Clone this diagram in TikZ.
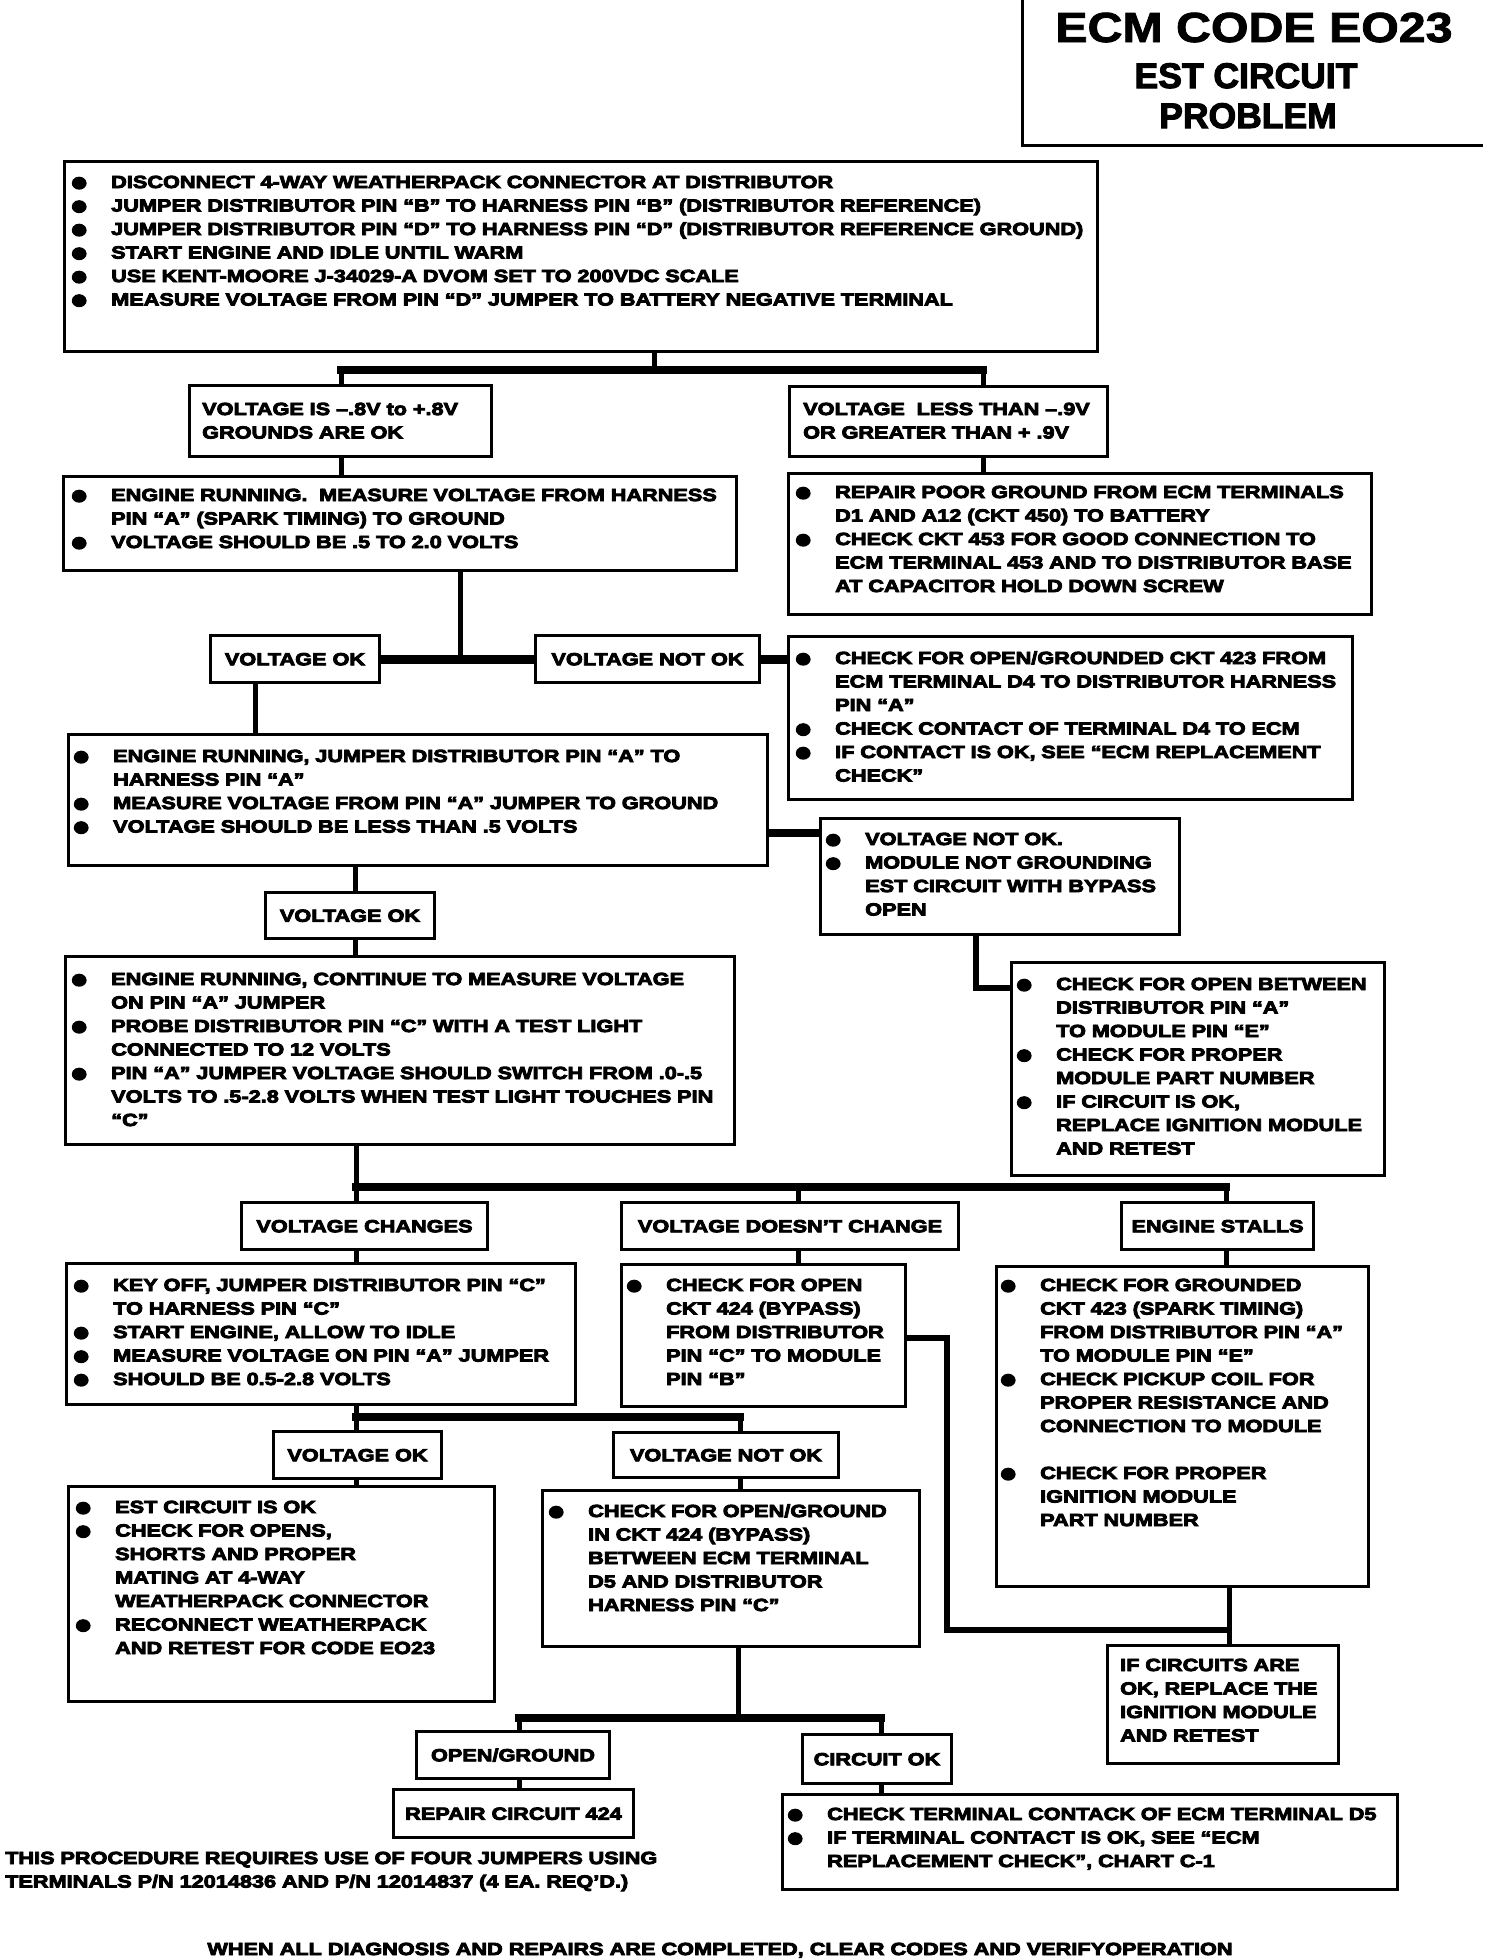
\documentclass[tikz,border=0pt]{standalone}
\usepackage{fontspec}
\usepackage{graphicx}
\newfontfamily\bodyfont{Liberation Sans}[FakeStretch=1.24, BoldFeatures={FakeBold=5}]
\newfontfamily\titleA{Liberation Sans}[FakeStretch=1.15, BoldFeatures={FakeBold=2}]
\newfontfamily\titleB{Liberation Sans}[BoldFeatures={FakeBold=3}]
\newcommand\bodyf{\bodyfont\bfseries\fontsize{17.5}{23.5}\selectfont}
\newcommand\bul{\raisebox{-2.8pt}{\scalebox{1.45}[1.55]{●}}}
\newcommand\itm{\leavevmode\llap{\makebox[10pt][c]{\bul}\hspace{27pt}}}
\begin{document}
\begin{tikzpicture}[x=1pt,y=-1pt,
  box/.style={draw, line width=3pt, anchor=north west, inner sep=0pt},
  lbl/.style={box, font=\bodyf, text height=12.5pt, text depth=0pt},
  txt/.style={anchor=base west, inner sep=0pt, align=left, text width=1100pt, font=\bodyf},
  conn/.style={line width=5pt},
  bar/.style={line width=8pt, line cap=rect},
  hbar/.style={line width=8pt},
]
\useasboundingbox (0,0) rectangle (1504,1960);

% title
\draw[line width=3pt] (1022,0) -- (1022,145) -- (1483,145);
\node[anchor=base, inner sep=0pt, font=\titleA\bfseries\fontsize{42}{46}\selectfont] (t1) at (1254,42) {ECM CODE EO23};
\node[anchor=base, inner sep=0pt, font=\titleB\bfseries\fontsize{35.5}{40}\selectfont] (t2) at (1246,88) {EST CIRCUIT};
\node[anchor=base, inner sep=0pt, font=\titleB\bfseries\fontsize{35.5}{40}\selectfont] (t3) at (1248,128) {PROBLEM};

% boxes
\node[box, minimum width=1033pt, minimum height=190pt] (b1) at (63,160) {};
\node[txt] (b1t) at (111,188) {\itm DISCONNECT 4-WAY WEATHERPACK CONNECTOR AT DISTRIBUTOR\\
\itm JUMPER DISTRIBUTOR PIN “B” TO HARNESS PIN “B” (DISTRIBUTOR REFERENCE)\\
\itm JUMPER DISTRIBUTOR PIN “D” TO HARNESS PIN “D” (DISTRIBUTOR REFERENCE GROUND)\\
\itm START ENGINE AND IDLE UNTIL WARM\\
\itm USE KENT-MOORE J-34029-A DVOM SET TO 200VDC SCALE\\
\itm MEASURE VOLTAGE FROM PIN “D” JUMPER TO BATTERY NEGATIVE TERMINAL};

\node[box, minimum width=302pt, minimum height=71pt] (vis) at (188,384) {};
\node[txt] (vist) at (202,415) {VOLTAGE IS –.8V to +.8V\\GROUNDS ARE OK};
\node[box, minimum width=318pt, minimum height=70pt] (vlt) at (788,385) {};
\node[txt] (vltt) at (803,415) {VOLTAGE\ \ LESS THAN –.9V\\OR GREATER THAN + .9V};

\node[box, minimum width=673pt, minimum height=94pt] (er1) at (62,475) {};
\node[txt] (er1t) at (111,501) {\itm ENGINE RUNNING.\ \ MEASURE VOLTAGE FROM HARNESS\\PIN “A” (SPARK TIMING) TO GROUND\\
\itm VOLTAGE SHOULD BE .5 TO 2.0 VOLTS};

\node[box, minimum width=583pt, minimum height=141pt] (rp) at (787,472) {};
\node[txt] (rpt) at (835,498) {\itm REPAIR POOR GROUND FROM ECM TERMINALS\\D1 AND A12 (CKT 450) TO BATTERY\\
\itm CHECK CKT 453 FOR GOOD CONNECTION TO\\ECM TERMINAL 453 AND TO DISTRIBUTOR BASE\\AT CAPACITOR HOLD DOWN SCREW};

\node[lbl, minimum width=169pt, minimum height=47pt] (vok1) at (209,634) {VOLTAGE OK};
\node[lbl, minimum width=224pt, minimum height=47pt] (vnok1) at (534,634) {VOLTAGE NOT OK};

\node[box, minimum width=564pt, minimum height=163pt] (cf1) at (787,635) {};
\node[txt] (cf1t) at (835,664) {\itm CHECK FOR OPEN/GROUNDED CKT 423 FROM\\ECM TERMINAL D4 TO DISTRIBUTOR HARNESS\\PIN “A”\\
\itm CHECK CONTACT OF TERMINAL D4 TO ECM\\
\itm IF CONTACT IS OK, SEE “ECM REPLACEMENT\\CHECK”};

\node[box, minimum width=699pt, minimum height=131pt] (er2) at (67,733) {};
\node[txt] (er2t) at (113,762) {\itm ENGINE RUNNING, JUMPER DISTRIBUTOR PIN “A” TO\\HARNESS PIN “A”\\
\itm MEASURE VOLTAGE FROM PIN “A” JUMPER TO GROUND\\
\itm VOLTAGE SHOULD BE LESS THAN .5 VOLTS};

\node[box, minimum width=359pt, minimum height=116pt] (mod) at (819,817) {};
\node[txt] (modt) at (865,845) {\itm VOLTAGE NOT OK.\\
\itm MODULE NOT GROUNDING\\EST CIRCUIT WITH BYPASS\\OPEN};

\node[lbl, minimum width=169pt, minimum height=46pt] (vok2) at (264,891) {VOLTAGE OK};

\node[box, minimum width=669pt, minimum height=188pt] (er3) at (64,955) {};
\node[txt] (er3t) at (111,985) {\itm ENGINE RUNNING, CONTINUE TO MEASURE VOLTAGE\\ON PIN “A” JUMPER\\
\itm PROBE DISTRIBUTOR PIN “C” WITH A TEST LIGHT\\CONNECTED TO 12 VOLTS\\
\itm PIN “A” JUMPER VOLTAGE SHOULD SWITCH FROM .0-.5\\VOLTS TO .5-2.8 VOLTS WHEN TEST LIGHT TOUCHES PIN\\“C”};

\node[box, minimum width=373pt, minimum height=213pt] (cfob) at (1010,961) {};
\node[txt] (cfobt) at (1056,990) {\itm CHECK FOR OPEN BETWEEN\\DISTRIBUTOR PIN “A”\\TO MODULE PIN “E”\\
\itm CHECK FOR PROPER\\MODULE PART NUMBER\\
\itm IF CIRCUIT IS OK,\\REPLACE IGNITION MODULE\\AND RETEST};

\node[lbl, minimum width=246pt, minimum height=47pt] (vc) at (240,1201) {VOLTAGE CHANGES};
\node[lbl, minimum width=337pt, minimum height=47pt] (vdc) at (620,1201) {VOLTAGE DOESN’T CHANGE};
\node[lbl, minimum width=192pt, minimum height=47pt] (es) at (1120,1201) {ENGINE STALLS};

\node[box, minimum width=509pt, minimum height=141pt] (ko) at (65,1262) {};
\node[txt] (kot) at (113,1291) {\itm KEY OFF, JUMPER DISTRIBUTOR PIN “C”\\TO HARNESS PIN “C”\\
\itm START ENGINE, ALLOW TO IDLE\\
\itm MEASURE VOLTAGE ON PIN “A” JUMPER\\
\itm SHOULD BE 0.5-2.8 VOLTS};

\node[box, minimum width=284pt, minimum height=142pt] (c424) at (620,1263) {};
\node[txt] (c424t) at (666,1291) {\itm CHECK FOR OPEN\\CKT 424 (BYPASS)\\FROM DISTRIBUTOR\\PIN “C” TO MODULE\\PIN “B”};

\node[box, minimum width=372pt, minimum height=320pt] (cfg) at (995,1265) {};
\node[txt] (cfgt) at (1040,1291) {\itm CHECK FOR GROUNDED\\CKT 423 (SPARK TIMING)\\FROM DISTRIBUTOR PIN “A”\\TO MODULE PIN “E”\\
\itm CHECK PICKUP COIL FOR\\PROPER RESISTANCE AND\\CONNECTION TO MODULE\\
\mbox{}\\
\itm CHECK FOR PROPER\\IGNITION MODULE\\PART NUMBER};

\node[box, minimum width=231pt, minimum height=118pt] (ic) at (1106,1644) {};
\node[txt] (ict) at (1120,1671) {IF CIRCUITS ARE\\OK, REPLACE THE\\IGNITION MODULE\\AND RETEST};

\node[lbl, minimum width=168pt, minimum height=47pt] (vok3) at (272,1430) {VOLTAGE OK};
\node[lbl, minimum width=225pt, minimum height=45pt] (vnok3) at (612,1431) {VOLTAGE NOT OK};

\node[box, minimum width=426pt, minimum height=215pt] (eo) at (67,1485) {};
\node[txt] (eot) at (115,1513) {\itm EST CIRCUIT IS OK\\
\itm CHECK FOR OPENS,\\SHORTS AND PROPER\\MATING AT 4-WAY\\WEATHERPACK CONNECTOR\\
\itm RECONNECT WEATHERPACK\\AND RETEST FOR CODE EO23};

\node[box, minimum width=377pt, minimum height=156pt] (cfog) at (541,1489) {};
\node[txt] (cfogt) at (588,1517) {\itm CHECK FOR OPEN/GROUND\\IN CKT 424 (BYPASS)\\BETWEEN ECM TERMINAL\\D5 AND DISTRIBUTOR\\HARNESS PIN “C”};

\node[lbl, minimum width=193pt, minimum height=47pt] (og) at (415,1730) {OPEN/GROUND};
\node[lbl, minimum width=240pt, minimum height=48pt] (rc) at (392,1788) {REPAIR CIRCUIT 424};
\node[lbl, minimum width=149pt, minimum height=49pt] (cok) at (801,1733) {CIRCUIT OK};

\node[box, minimum width=615pt, minimum height=95pt] (ct) at (781,1793) {};
\node[txt] (ctt) at (827,1820) {\itm CHECK TERMINAL CONTACK OF ECM TERMINAL D5\\
\itm IF TERMINAL CONTACT IS OK, SEE “ECM\\REPLACEMENT CHECK”, CHART C-1};

\node[txt] (foot) at (5,1864) {THIS PROCEDURE REQUIRES USE OF FOUR JUMPERS USING\\TERMINALS P/N 12014836 AND P/N 12014837 (4 EA. REQ’D.)};
\node[anchor=base, inner sep=0pt, font=\bodyf] (footer) at (720,1955) {WHEN ALL DIAGNOSIS AND REPAIRS ARE COMPLETED, CLEAR CODES AND VERIFYOPERATION};

% connectors
\coordinate (j1) at (654,370);
\coordinate (j1a) at (341,370);
\coordinate (j1b) at (983,370);
\draw[conn] (j1 |- b1.south) -- (j1);
\draw[bar] (j1a) -- (j1b);
\draw[conn] (j1a) -- (j1a |- vis.north);
\draw[conn] (j1b) -- (j1b |- vlt.north);
\draw[conn] (j1a |- vis.south) -- (j1a |- er1.north);
\draw[conn] (j1b |- vlt.south) -- (j1b |- rp.north);

\coordinate (j2) at (460,657.5);
\draw[conn] (j2 |- er1.south) -- (j2);
\draw[hbar, line width=9pt] (vok1.east) -- (vnok1.west);
\draw[hbar, line width=9pt] (vnok1.east) -- (vnok1.east -| cf1.west);

\coordinate (j3) at (255,700);
\draw[conn] (j3 |- vok1.south) -- (j3 |- er2.north);

\coordinate (j4) at (790,833);
\draw[hbar] (j4 -| er2.east) -- (j4 -| mod.west);

\coordinate (j5) at (355,900);
\draw[conn] (j5 |- er2.south) -- (j5 |- vok2.north);
\draw[conn] (j5 |- vok2.south) -- (j5 |- er3.north);

\coordinate (j6) at (976,988);
\draw[line width=6pt] (j6 |- mod.south) -- (j6) -- (j6 -| cfob.west);

\coordinate (j7a) at (356,1187);
\coordinate (j7b) at (798,1187);
\coordinate (j7c) at (1226,1187);
\draw[conn] (j7a |- er3.south) -- (j7a);
\draw[bar] (j7a) -- (j7c);
\draw[conn] (j7a) -- (j7a |- vc.north);
\draw[conn] (j7b) -- (j7b |- vdc.north);
\draw[conn] (j7c) -- (j7c |- es.north);
\draw[conn] (j7a |- vc.south) -- (j7a |- ko.north);
\draw[conn] (j7b |- vdc.south) -- (j7b |- c424.north);
\draw[conn] (j7c |- es.south) -- (j7c |- cfg.north);

\coordinate (j8) at (947,1338);
\coordinate (j9) at (947,1630);
\coordinate (j10) at (1229,1630);
\draw[line width=6pt] (j8 -| c424.east) -- (j8) -- (j9) -- (j10);
\draw[conn] (j10 |- cfg.south) -- (j10 |- ic.north);

\coordinate (j11a) at (356,1417);
\coordinate (j11b) at (740,1417);
\draw[conn] (j11a |- ko.south) -- (j11a);
\draw[bar] (j11a) -- (j11b);
\draw[conn] (j11a) -- (j11a |- vok3.north);
\draw[conn] (j11b) -- (j11b |- vnok3.north);
\draw[conn] (j11a |- vok3.south) -- (j11a |- eo.north);
\draw[conn] (j11b |- vnok3.south) -- (j11b |- cfog.north);

\coordinate (j12) at (738,1718);
\coordinate (j12a) at (519,1718);
\coordinate (j12b) at (881,1718);
\draw[conn] (j12 |- cfog.south) -- (j12);
\draw[bar] (j12a) -- (j12b);
\draw[conn] (j12a) -- (j12a |- og.north);
\draw[conn] (j12b) -- (j12b |- cok.north);
\draw[conn] (j12a |- og.south) -- (j12a |- rc.north);
\draw[conn] (j12b |- cok.south) -- (j12b |- ct.north);
\end{tikzpicture}
\end{document}
